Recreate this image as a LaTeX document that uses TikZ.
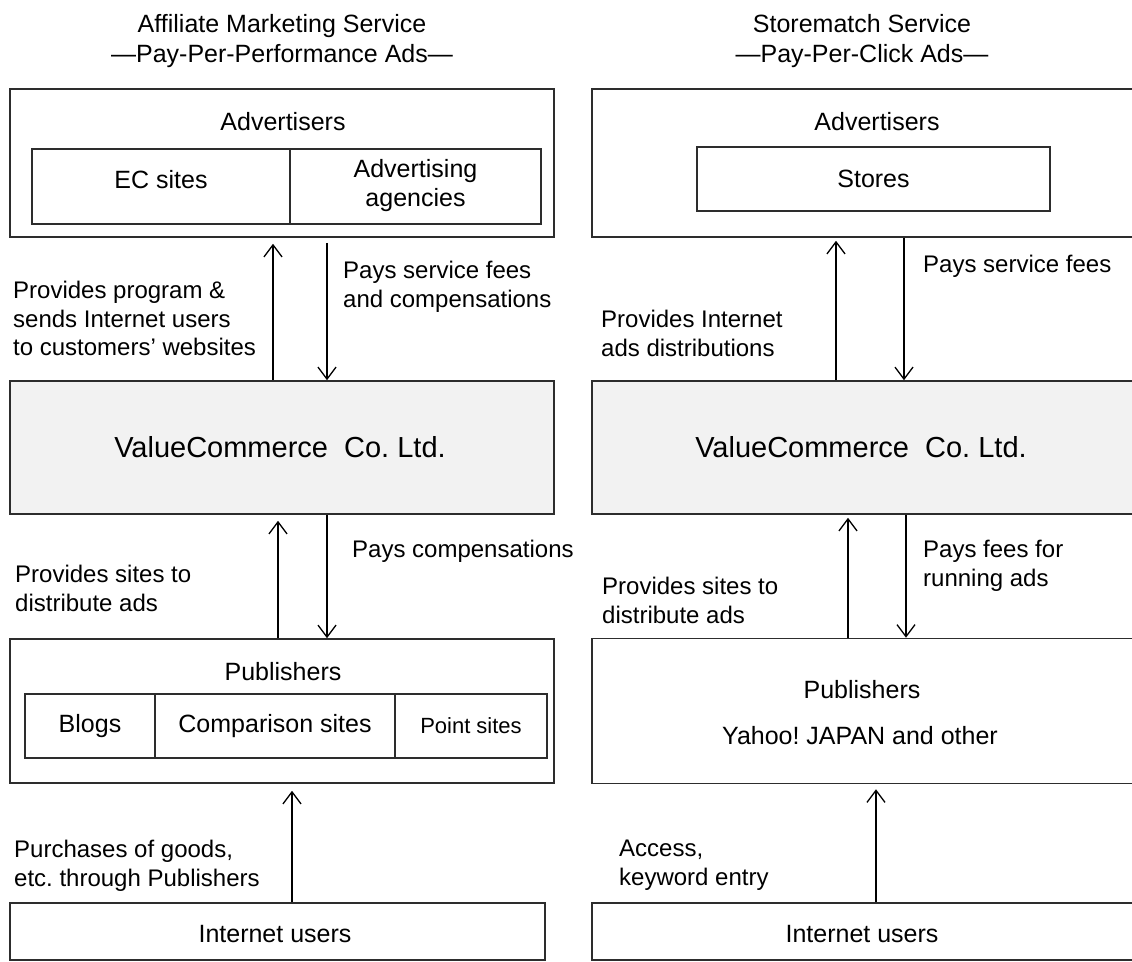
\documentclass[tikz,border=0pt]{standalone}
\usepackage{fontspec}
\setmainfont{Liberation Sans}
\usetikzlibrary{matrix, positioning, arrows.meta}
\definecolor{vcgray}{RGB}{242,242,242}
\definecolor{boxline}{RGB}{45,45,45}

\begin{document}
\frenchspacing
\begin{tikzpicture}
[x=1pt, y=-1pt,
box/.style={rectangle, draw=boxline, line width=1.6pt, inner sep=0pt},
cell/.style={rectangle, draw=boxline, line width=1.6pt, inner sep=0pt, anchor=center, font=\fontsize{25}{29}\selectfont},
space/.style={matrix of nodes, inner sep=0pt, row sep=-1.6pt, column sep=-1.6pt},
txt/.style={inner sep=0pt, anchor=base, font=\fontsize{25}{30}\selectfont},
vctxt/.style={inner sep=0pt, font=\fontsize{29}{34}\selectfont},
lbl/.style={inner sep=0pt, anchor=north west, align=left, font=\fontsize{24}{28.5}\selectfont},
flow/.style={-{Straight Barb[length=12pt, width=18pt]}, line width=1.3pt},
]
\useasboundingbox (0,0) rectangle (1132,961);
\clip (0,0) rectangle (1132,961);

% titles
\node[txt, anchor=north, align=center] (titleL) at (282,14) {Affiliate Marketing Service\\—Pay-Per-Performance Ads—};
\node[txt, anchor=north, align=center] (titleR) at (862,14) {Storematch Service\\—Pay-Per-Click Ads—};

% affiliate side
\node[box, minimum width=544pt, minimum height=148pt] (advL) at (282,163) {};
\node[txt] (advLt) at (283,130) {Advertisers};
\matrix (advLm) [space, anchor=north west, nodes={cell, minimum height=75pt},
column 1/.style={nodes={minimum width=258pt}},
column 2/.style={nodes={minimum width=251pt}},
] at (31,148) {
|[text depth=15pt]| EC sites & {\begin{tabular}{@{}c@{}}Advertising\\agencies\end{tabular}} \\
};

\node[box, fill=vcgray, minimum width=544pt, minimum height=133pt] (vcL) at (282,447.5) {};
\node[vctxt] (vcLt) at (280,447.5) {ValueCommerce\ \ Co. Ltd.};

\node[box, minimum width=544pt, minimum height=144pt] (pubL) at (282,711) {};
\node[txt] (pubLt) at (283,680) {Publishers};
\matrix (pubLm) [space, anchor=north west, nodes={cell, minimum height=64pt},
column 1/.style={nodes={minimum width=130pt}},
column 2/.style={nodes={minimum width=240pt}},
column 3/.style={nodes={minimum width=152pt}},
] at (24,693) {
Blogs & Comparison sites & |[font=\fontsize{22}{26}\selectfont]| Point sites \\
};

\node[box, minimum width=535pt, minimum height=57pt] (iuL) at (277.5,931.5) {};
\node[txt] (iuLt) at (275,942) {Internet users};

\draw[flow, shorten >=6pt] ([xshift=-9pt]vcL.north) -- ([xshift=-9pt]advL.south);
\draw[flow, shorten <=5pt] ([xshift=45pt]advL.south) -- ([xshift=45pt]vcL.north);
\draw[flow, shorten >=6pt] ([xshift=-4pt]pubL.north) -- ([xshift=-4pt]vcL.south);
\draw[flow] ([xshift=45pt]vcL.south) -- ([xshift=45pt]pubL.north);
\draw[flow, shorten >=7pt] ([xshift=14.5pt]iuL.north) -- ([xshift=10pt]pubL.south);

\node[lbl] (provL) at (13,281) {Provides program \&\\sends Internet users\\to customers' websites};
\node[lbl] (paysL) at (343,261) {Pays service fees\\and compensations};
\node[lbl] (compL) at (352,540) {Pays compensations};
\node[lbl] (sitesL) at (15,565) {Provides sites to\\distribute ads};
\node[lbl] (buyL) at (14,840) {Purchases of goods,\\etc. through Publishers};

% storematch side
\node[box, minimum width=550pt, minimum height=148pt] (advR) at (867,163) {};
\node[txt] (advRt) at (877,130) {Advertisers};
\node[box, minimum width=353pt, minimum height=64pt, font=\fontsize{25}{30}\selectfont] (storeR) at (873.5,179) {Stores};

\node[box, fill=vcgray, minimum width=550pt, minimum height=133pt] (vcR) at (867,447.5) {};
\node[vctxt] (vcRt) at (861,447.5) {ValueCommerce\ \ Co. Ltd.};

\node[box, minimum width=550pt, minimum height=145pt] (pubR) at (867,711) {};
\node[txt] (pubRt) at (862,698) {Publishers};
\node[txt] (yahooRt) at (860,744) {Yahoo! JAPAN and other};

\node[box, minimum width=550pt, minimum height=57pt] (iuR) at (867,931.5) {};
\node[txt] (iuRt) at (862,942) {Internet users};

\draw[flow, shorten >=3pt] ([xshift=-31pt]vcR.north) -- ([xshift=-31pt]advR.south);
\draw[flow] ([xshift=37pt]advR.south) -- ([xshift=37pt]vcR.north);
\draw[flow, shorten >=3pt] ([xshift=-19pt]pubR.north) -- ([xshift=-19pt]vcR.south);
\draw[flow] ([xshift=39pt]vcR.south) -- ([xshift=39pt]pubR.north);
\draw[flow, shorten >=5pt] ([xshift=9pt]iuR.north) -- ([xshift=9pt]pubR.south);

\node[lbl] (paysR) at (923,255) {Pays service fees};
\node[lbl] (provR) at (601,310) {Provides Internet\\ads distributions};
\node[lbl] (feesR) at (923,540) {Pays fees for\\running ads};
\node[lbl] (sitesR) at (602,577) {Provides sites to\\distribute ads};
\node[lbl] (accR) at (619,840) {Access,\\keyword entry};
\end{tikzpicture}
\end{document}
